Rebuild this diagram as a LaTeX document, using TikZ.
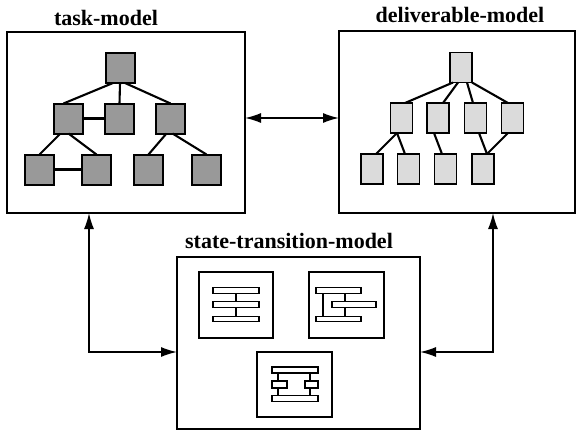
\documentclass[tikz,border=0pt]{standalone}
\usepackage{fontspec}
\setmainfont{Liberation Serif}
\usetikzlibrary{arrows.meta,calc}
\tikzset{
  frame/.style={draw, line width=1.6pt, inner sep=0pt, outer sep=0pt, fill=white},
  title/.style={font=\fontsize{22}{25}\selectfont\bfseries, anchor=base, inner sep=0pt},
  tsq/.style={draw, line width=2pt, fill=black!40, minimum width=29pt, minimum height=30pt, inner sep=0pt, outer sep=0pt},
  dsq/.style={draw, line width=1.8pt, fill=black!14, minimum width=22pt, minimum height=30pt, inner sep=0pt, outer sep=0pt},
  link/.style={line width=2.1pt},
  panel/.style={draw, line width=1.5pt, inner sep=0pt, outer sep=0pt},
  bar/.style={draw, line width=1.3pt, inner sep=0pt, outer sep=0pt},
  thin/.style={line width=1.3pt},
  conn/.style={line width=1.5pt, {Latex[length=16pt,width=10pt]}-{Latex[length=16pt,width=10pt]}},
}
\begin{document}
\begin{tikzpicture}[x=1pt,y=-1pt]
\useasboundingbox (0,0) rectangle (578,439);

% the three model frames
\node[frame, minimum width=238pt, minimum height=181pt] (tbox) at (126,122.5) {};
\node[frame, minimum width=236pt, minimum height=182pt] (dbox) at (457,122) {};
\node[frame, minimum width=243pt, minimum height=172pt] (sbox) at (298.5,343) {};

\node[title] (ttitle) at (106,25) {task-model};
\node[title] (dtitle) at (460,23) {deliverable-model};
\node[title] (stitle) at (289,248) {state-transition-model};

% task hierarchy
\node[tsq] (t0) at (120,68) {};
\node[tsq] (t1) at (68.5,118.5) {};
\node[tsq] (t2) at (119.5,118.5) {};
\node[tsq] (t3) at (170.5,118.5) {};
\node[tsq] (t4) at (39.5,169.5) {};
\node[tsq] (t5) at (96.5,169.5) {};
\node[tsq] (t6) at (148.5,169.5) {};
\node[tsq] (t7) at (206.5,169.5) {};
\draw[link] ([xshift=-7pt]t0.south) -- ([xshift=-5pt]t1.north);
\draw[link] (t0.south) -- (t2.north);
\draw[link] ([xshift=5pt]t0.south) -- (t3.north);
\draw[link] (t1.east) -- (t2.west);
\draw[link] ([xshift=-8pt]t1.south) -- (t4.north);
\draw[link] (t1.south) -- (t5.north);
\draw[link] ([xshift=-4pt]t3.south) -- (t6.north);
\draw[link] ([xshift=2pt]t3.south) -- (t7.north);
\draw[link] (t4.east) -- (t5.west);

% deliverable hierarchy
\node[dsq] (d0) at (461,67.5) {};
\node[dsq] (d1) at (401.5,118) {};
\node[dsq] (d2) at (438,118) {};
\node[dsq] (d3) at (475.5,118) {};
\node[dsq] (d4) at (512.5,118) {};
\node[dsq] (d5) at (372,169) {};
\node[dsq] (d6) at (408.5,169) {};
\node[dsq] (d7) at (445.5,169) {};
\node[dsq] (d8) at (483,169) {};
\draw[link] ([xshift=-8pt]d0.south) -- ([xshift=3.5pt]d1.north);
\draw[link] ([xshift=-3pt]d0.south) -- ([xshift=5pt]d2.north);
\draw[link] ([xshift=6pt]d0.south) -- ([xshift=-2.5pt]d3.north);
\draw[link] ([xshift=11pt]d0.south) -- ([xshift=-4.5pt]d4.north);
\draw[link] ([xshift=-4.5pt]d1.south) -- ([xshift=4pt]d5.north);
\draw[link] ([xshift=-4.5pt]d1.south) -- ([xshift=-3.5pt]d6.north);
\draw[link] ([xshift=-4pt]d2.south) -- ([xshift=-3.5pt]d7.north);
\draw[link] ([xshift=3.5pt]d3.south) -- ([xshift=4pt]d8.north);
\draw[link] ([xshift=-4.5pt]d4.south) -- ([xshift=4pt]d8.north);

% state-transition panels
\node[panel, minimum width=74pt, minimum height=66pt] (p1) at (236,305) {};
\node[panel, minimum width=75pt, minimum height=66pt] (p2) at (346.5,305) {};
\node[panel, minimum width=75pt, minimum height=65pt] (p3) at (294.5,384.5) {};

% panel 1: three bars in a column
\node[bar, minimum width=46pt, minimum height=5.5pt] (a1) at (236,290.5) {};
\node[bar, minimum width=46pt, minimum height=5.5pt] (a2) at (236,304.5) {};
\node[bar, minimum width=46pt, minimum height=5.5pt] (a3) at (236,319) {};
\draw[thin] (a1.south) -- (a2.north);
\draw[thin] (a2.south) -- (a3.north);

% panel 2: middle bar offset to the right
\node[bar, minimum width=45pt, minimum height=5.5pt] (b1) at (338.5,290.5) {};
\node[bar, minimum width=44pt, minimum height=5.5pt] (b2) at (354,304.5) {};
\node[bar, minimum width=45pt, minimum height=5.5pt] (b3) at (338.5,319) {};
\draw[thin] ([xshift=-15.5pt]b1.south) -- ([xshift=-15.5pt]b3.north);
\draw[thin] ([xshift=6.5pt]b1.south) -- (b2.north -| {345,0});
\draw[thin] (b2.south -| {345,0}) -- ([xshift=6.5pt]b3.north);

% panel 3: two parallel branches
\node[bar, minimum width=46pt, minimum height=6pt] (c1) at (295,370) {};
\node[bar, minimum width=15pt, minimum height=7pt] (c2) at (279.5,384.5) {};
\node[bar, minimum width=13pt, minimum height=7pt] (c3) at (311.5,384.5) {};
\node[bar, minimum width=46pt, minimum height=6.5pt] (c4) at (295,398.5) {};
\draw[thin] (c1.south -| {278,0}) -- (c2.north -| {278,0});
\draw[thin] (c2.south -| {278,0}) -- (c4.north -| {278,0});
\draw[thin] (c1.south -| {310,0}) -- (c3.north -| {310,0});
\draw[thin] (c3.south -| {310,0}) -- (c4.north -| {310,0});

% connectors between the models
\coordinate (mid) at (290,118);
\coordinate (cl) at (89,352);
\coordinate (cr) at (493,352);
\draw[conn] (tbox.east |- mid) -- (dbox.west |- mid);
\draw[conn] (tbox.south -| cl) -- (cl) -- (sbox.west |- cl);
\draw[conn] (dbox.south -| cr) -- (cr) -- (sbox.east |- cr);
\end{tikzpicture}
\end{document}
